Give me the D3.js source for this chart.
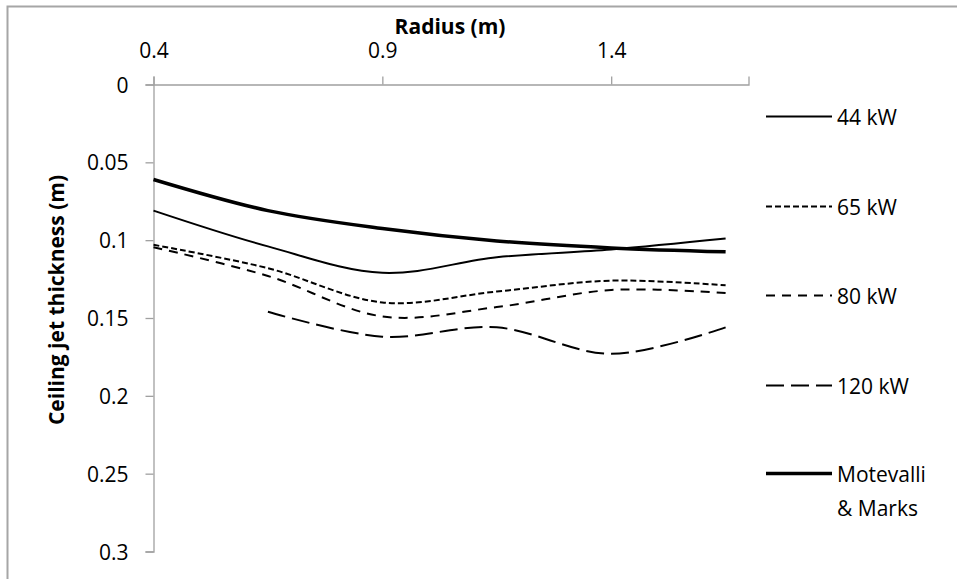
<!DOCTYPE html>
<html>
<head>
<meta charset="utf-8">
<script src="https://cdn.jsdelivr.net/npm/d3@7"></script>
<style>
  html, body { margin: 0; padding: 0; background: #fff; }
  svg { display: block; font-family: "Open Sans", Lato, sans-serif; }
</style>
</head>
<body>
<svg id="chart" width="957" height="579"></svg>
<script>
// ---- data ----
const radius = [0.4, 0.65, 0.9, 1.15, 1.4, 1.65];
const kw44 = [0.081, 0.104, 0.121, 0.111, 0.106, 0.099];
const kw65 = [0.103, 0.118, 0.140, 0.133, 0.126, 0.129];
const kw80 = [0.1045, 0.123, 0.149, 0.143, 0.132, 0.134];
const kw120 = [null, 0.146, 0.162, 0.156, 0.173, 0.156];
const motevalli = [0.061, 0.081, 0.0925, 0.1005, 0.105, 0.1075];
const seriesNames = ["44 kW", "65 kW", "80 kW", "120 kW", "Motevalli & Marks"];
const xTicks = [0.4, 0.9, 1.4];
const yTicks = [0, 0.05, 0.1, 0.15, 0.2, 0.25, 0.3];

const seriesValues = [kw44, kw65, kw80, kw120, motevalli];
const styles = [
  { width: 2, dash: null },
  { width: 2, dash: "6,3" },
  { width: 2, dash: "9,7" },
  { width: 2, dash: "18,7" },
  { width: 3.5, dash: null }
];

const svg = d3.select("#chart");
const FONT = "'Open Sans', Lato, sans-serif";

// chart border
svg.append("path")
  .attr("d", "M7.5,579 L7.5,6.5 L957,6.5")
  .attr("fill", "none").attr("stroke", "#a6a6a6").attr("stroke-width", 2);

const x = d3.scaleLinear().domain([0.4, 1.7]).range([153.5, 748.5]);
const y = d3.scaleLinear().domain([0, 0.3]).range([84.5, 551.5]);

const axisColor = "#a0a0a0";

// top x axis
const gx = svg.append("g").attr("transform", `translate(0,${y(0)})`)
  .call(d3.axisTop(x).tickValues(xTicks).tickSize(8).tickPadding(19)
    .tickFormat(d3.format(".1f")));
// left y axis
const gy = svg.append("g").attr("transform", `translate(${x(0.4)},0)`)
  .call(d3.axisLeft(y).tickValues(yTicks).tickSize(8).tickPadding(17)
    .tickFormat(d => d === 0 ? "0" : String(+d.toFixed(2))));

[gx, gy].forEach(g => {
  g.attr("font-size", 21).attr("font-family", FONT);
  g.select(".domain").attr("stroke", axisColor).attr("stroke-width", 1.3);
  g.selectAll(".tick line").attr("stroke", axisColor).attr("stroke-width", 1.3);
  g.selectAll(".tick text").attr("fill", "#000");
});
gy.selectAll(".tick text").attr("dy", "0.36em");

// axis titles
svg.append("text").attr("x", 450).attr("y", 34).attr("text-anchor", "middle")
  .attr("font-size", 21).attr("font-weight", "bold").text("Radius (m)");
svg.append("text").attr("transform", `translate(64,300) rotate(-90)`)
  .attr("text-anchor", "middle").attr("font-size", 21).attr("font-weight", "bold")
  .text("Ceiling jet thickness (m)");

// lines
const line = d3.line()
  .defined(d => d[1] !== null)
  .x(d => x(d[0])).y(d => y(d[1]))
  .curve(d3.curveCatmullRom.alpha(0));

seriesValues.forEach((vals, i) => {
  const pts = radius.map((r, j) => [r, vals[j]]).filter(d => d[1] !== null);
  svg.append("path").datum(pts)
    .attr("d", line)
    .attr("fill", "none")
    .attr("stroke", "#000")
    .attr("stroke-width", styles[i].width)
    .attr("stroke-dasharray", styles[i].dash);
});

// legend
const legendY = [116.5, 206.5, 295.5, 385.5, 473.5];
seriesNames.forEach((name, i) => {
  const g = svg.append("g").attr("transform", `translate(0,${legendY[i]})`);
  g.append("line").attr("x1", 766).attr("x2", 832).attr("y1", 0).attr("y2", 0)
    .attr("stroke", "#000").attr("stroke-width", styles[i].width)
    .attr("stroke-dasharray", styles[i].dash);
  const t = g.append("text").attr("x", 837).attr("y", 8).attr("font-size", 21);
  if (name === "Motevalli & Marks") {
    t.append("tspan").attr("x", 837).attr("dy", 0).text("Motevalli");
    t.append("tspan").attr("x", 837).attr("dy", 34).text("& Marks");
  } else {
    t.text(name);
  }
});
</script>
</body>
</html>
